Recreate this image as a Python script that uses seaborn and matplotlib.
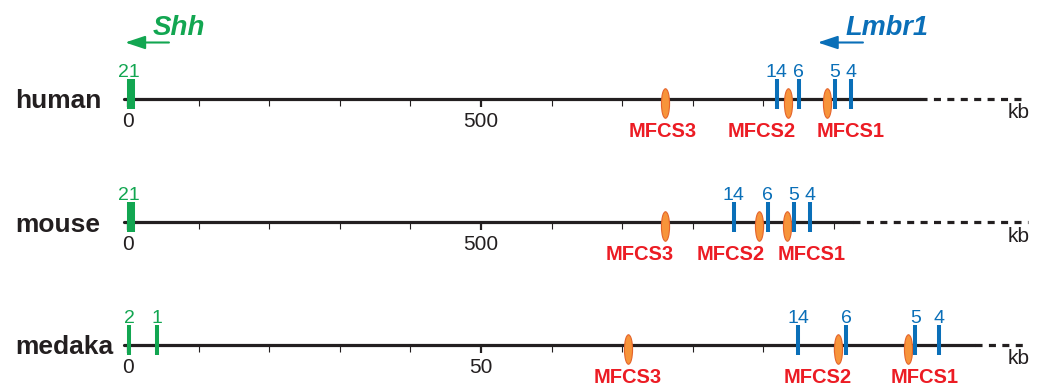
import matplotlib
matplotlib.use("Agg")
import matplotlib.pyplot as plt
from matplotlib.path import Path
from matplotlib.transforms import Affine2D
from matplotlib.markers import MarkerStyle
import seaborn as sns

# positions are kb downstream of Shh
species = ["human", "mouse", "medaka"]

shh_exons = ["2", "1"]
human_shh = [1.4, 7.1]
mouse_shh = [1.4, 7.1]
medaka_shh = [0.15, 4.1]

lmbr1_exons = ["14", "6", "5", "4"]
human_lmbr1 = [919, 950, 1001, 1024]
mouse_lmbr1 = [858, 906, 943, 966]
medaka_lmbr1 = [94.9, 101.7, 111.5, 114.9]

mfcs_names = ["MFCS3", "MFCS2", "MFCS1"]
human_mfcs = [760, 935, 990]
mouse_mfcs = [760, 894, 933]
medaka_mfcs = [70.8, 100.6, 110.5]
human_mfcs_label = [757, 898, 1024]
mouse_mfcs_label = [725, 853, 969]
medaka_mfcs_label = [70.8, 97.7, 112.9]

# start, end of mapped region (solid), end of dashed extension
human_span = [-5, 1122, 1271]
mouse_span = [-5, 1027, 1275]
medaka_span = [-0.5, 120, 127.5]

human_ticks = [0, 100, 200, 300, 400, 500, 600, 700, 800, 900, 1000]
mouse_ticks = [0, 100, 200, 300, 400, 500, 600, 700, 800, 900, 1000]
medaka_ticks = [0, 10, 20, 30, 40, 50, 60, 70, 80, 90, 100, 110]
human_labels = {0: "0", 500: "500"}
mouse_labels = {0: "0", 500: "500"}
medaka_labels = {0: "0", 50: "50"}

BLACK = "#231f20"
GREEN = "#12a651"
BLUE = "#0a6fb8"
RED = "#ec1c24"
ORANGE = "#f7943a"
ORANGE_EDGE = "#e5632a"

sns.set_style("white")
plt.rcParams["font.family"] = ["Liberation Sans", "DejaVu Sans"]

W, H = 1044, 387
ZERO_PX = 128
fig = plt.figure(figsize=(W / 100, H / 100), dpi=100)

rows = [
    dict(name="human", top=0, bottom=150, line=98.5, px_per_kb=0.706,
         shh=human_shh, lmbr1=human_lmbr1, mfcs=human_mfcs, mfcs_lab=human_mfcs_label,
         span=human_span, ticks=human_ticks, labels=human_labels),
    dict(name="mouse", top=150, bottom=270, line=222, px_per_kb=0.706,
         shh=mouse_shh, lmbr1=mouse_lmbr1, mfcs=mouse_mfcs, mfcs_lab=mouse_mfcs_label,
         span=mouse_span, ticks=mouse_ticks, labels=mouse_labels),
    dict(name="medaka", top=270, bottom=387, line=344.5, px_per_kb=7.06,
         shh=medaka_shh, lmbr1=medaka_lmbr1, mfcs=medaka_mfcs, mfcs_lab=medaka_mfcs_label,
         span=medaka_span, ticks=medaka_ticks, labels=medaka_labels),
]

ellipse = MarkerStyle(Path.unit_circle().transformed(Affine2D().scale(8, 29)))

axes = []
for r in rows:
    ax = fig.add_axes([0, 1 - r["bottom"] / H, 1, (r["bottom"] - r["top"]) / H])
    axes.append(ax)
    k = r["px_per_kb"]
    ax.set_xlim(-ZERO_PX / k, (W - ZERO_PX) / k)
    ax.set_ylim(-(r["bottom"] - r["line"]), r["line"] - r["top"])
    ax.set_facecolor("none")
    for s in ax.spines.values():
        s.set_visible(False)
    ax.spines["bottom"].set_position(("data", 0))

    major = list(r["labels"].keys())
    minor = [t for t in r["ticks"] if t not in major]
    ax.set_xticks(major, [r["labels"][t] for t in major])
    ax.set_xticks(minor, minor=True)
    ax.tick_params(axis="x", which="major", bottom=True, length=5.5, width=1.6, color=BLACK,
                   direction="out", pad=4, labelsize=15, labelcolor=BLACK)
    ax.tick_params(axis="x", which="minor", bottom=True, length=5, width=0.8, color=BLACK,
                   direction="out")
    ax.set_yticks([])

    start, solid_end, dash_end = r["span"]
    sns.lineplot(x=[start, solid_end], y=[0, 0], ax=ax, color=BLACK, lw=2.3, zorder=2)
    sns.lineplot(x=[solid_end, dash_end], y=[0, 0], ax=ax, color=BLACK, lw=2.3,
                 linestyle=(0, (2.2, 2.0)), zorder=2)

    # MFCS ellipses
    sns.scatterplot(x=r["mfcs"], y=[-4] * len(r["mfcs"]), ax=ax, marker=ellipse, s=450,
                    color=ORANGE, edgecolor=ORANGE_EDGE, linewidth=0.8, zorder=4)
    for name, xl in zip(mfcs_names, r["mfcs_lab"]):
        ax.text(xl, -38.5, name, color=RED, fontsize=14.5, fontweight="bold",
                ha="center", va="baseline")

    # exons
    ax.vlines(r["lmbr1"], -10, 20, color=BLUE, lw=2.9, zorder=5)
    for lab, xe in zip(lmbr1_exons, r["lmbr1"]):
        ax.text(xe, 21.5, lab, color=BLUE, fontsize=14, ha="center", va="baseline")
    ax.vlines(r["shh"], -10, 20, color=GREEN, lw=2.9, zorder=5)
    if r["name"] == "medaka":
        for lab, xe in zip(shh_exons, r["shh"]):
            ax.text(xe, 21.5, lab, color=GREEN, fontsize=14, ha="center", va="baseline")
    else:
        ax.text(r["shh"][0], 21.5, "".join(shh_exons), color=GREEN, fontsize=14,
                ha="center", va="baseline")

    tr = ax.get_yaxis_transform()
    ax.text(15 / W, -9.5, r["name"], transform=tr, fontsize=19, fontweight="bold",
            color=BLACK, ha="left", va="baseline")
    ax.text(1008 / W, -20, "kb", transform=tr, fontsize=15, color=BLACK,
            ha="left", va="baseline")

# gene direction arrows on the human row
ax = axes[0]
ax.annotate("", xy=(-4, 56), xytext=(58, 56),
            arrowprops=dict(arrowstyle="-|>,head_length=1.2,head_width=0.4",
                            color=GREEN, lw=1.5, mutation_scale=10, shrinkA=0, shrinkB=0))
ax.text(35, 63.5, "Shh", color=GREEN, fontsize=20, fontweight="bold",
        fontstyle="italic", ha="left", va="baseline")
ax.annotate("", xy=(977, 56), xytext=(1041, 56),
            arrowprops=dict(arrowstyle="-|>,head_length=1.2,head_width=0.4",
                            color=BLUE, lw=1.5, mutation_scale=10, shrinkA=0, shrinkB=0))
ax.text(1017, 63.5, "Lmbr1", color=BLUE, fontsize=19.5, fontweight="bold",
        fontstyle="italic", ha="left", va="baseline")

fig.savefig("out.png", dpi=100)
